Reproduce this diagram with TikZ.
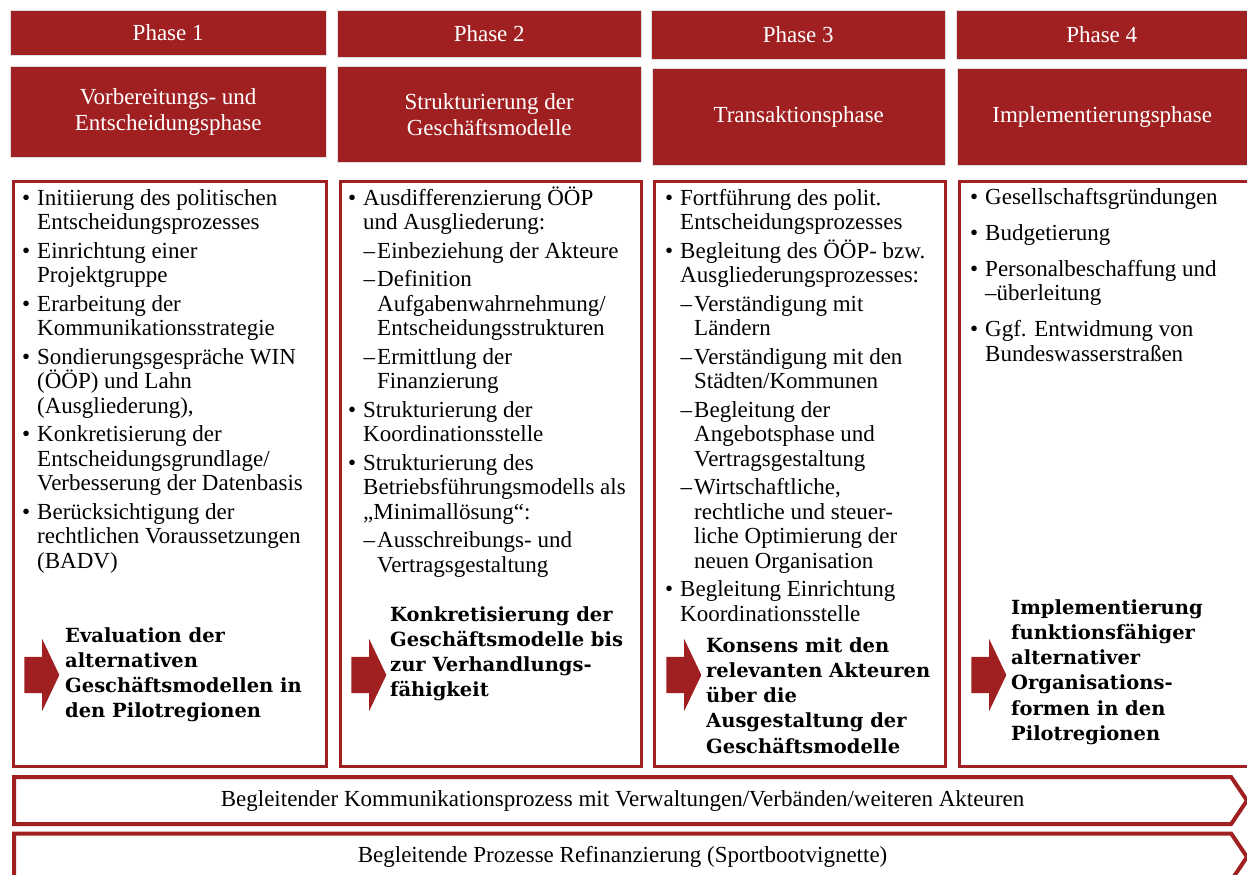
\documentclass[tikz,border=0pt]{standalone}
\usepackage{fontspec}
\setmainfont{Liberation Serif}
\newfontfamily\fettschrift{DejaVu Serif}
\usepackage{enumitem}
\usepackage{tikz}
\usetikzlibrary{shapes,arrows,positioning}
\definecolor{dunkelrot}{RGB}{160,32,34}
\setlist[itemize,1]{label=\textbullet, leftmargin=15pt, labelsep=7pt, itemsep=3.8pt, topsep=0pt, parsep=0pt, partopsep=0pt}
\setlist[itemize,2]{label=\textendash, leftmargin=14pt, labelsep=2pt, itemsep=3.8pt, topsep=3.8pt, parsep=0pt, partopsep=0pt}
\tikzstyle{phase} = [fill=dunkelrot, text=white, draw=gray!25, inner sep=0pt, anchor=north west, align=center, font=\fontsize{23}{26}\selectfont]
\tikzstyle{inhalt} = [draw=dunkelrot, line width=3pt, inner sep=0pt, anchor=north west]
\tikzstyle{liste} = [inner sep=0pt, anchor=base west, font=\fontsize{23}{24.6}\selectfont]
\tikzstyle{pfeil} = [single arrow, fill=dunkelrot, inner xsep=0pt, inner ysep=18pt, minimum height=35pt, single arrow head extend=18pt, single arrow tip angle=129]
\tikzstyle{ergebnis} = [inner sep=0pt, anchor=base west, font=\fettschrift\bfseries\fontsize{19.5}{25.3}\selectfont]
\tikzstyle{begleitung} = [signal, signal to=east, signal pointer angle=112, draw=dunkelrot, line width=4pt, inner sep=0pt, font=\fontsize{23}{26}\selectfont]

\begin{document}
\begin{tikzpicture}[x=1pt,y=-1pt]
\useasboundingbox (0,0) rectangle (1247,875);

% Kopfzeilen
\node[phase, minimum width=316pt, minimum height=45pt] (ph1) at (10,10) {Phase 1};
\node[phase, minimum width=304pt, minimum height=47pt] (ph2) at (337,10) {Phase 2};
\node[phase, minimum width=294pt, minimum height=49pt] (ph3) at (651,10) {Phase 3};
\node[phase, minimum width=291pt, minimum height=49pt] (ph4) at (956,10) {Phase 4};

\node[phase, minimum width=316pt, minimum height=91pt] (ti1) at (10,66) {Vorbereitungs- und\\Entscheidungsphase};
\node[phase, minimum width=304pt, minimum height=96pt] (ti2) at (337,66) {Strukturierung der\\Geschäftsmodelle};
\node[phase, minimum width=293pt, minimum height=97pt] (ti3) at (652,68) {Transaktionsphase};
\node[phase, minimum width=290pt, minimum height=97pt] (ti4) at (957,68) {Implementierungsphase};

% Rahmen der Spalten
\node[inhalt, minimum width=313pt, minimum height=585pt] (in1) at (11.5,179.5) {};
\node[inhalt, minimum width=301pt, minimum height=585pt] (in2) at (338.5,179.5) {};
\node[inhalt, minimum width=291pt, minimum height=585pt] (in3) at (652.5,179.5) {};
\node[inhalt, minimum width=300pt, minimum height=585pt] (in4) at (957.5,179.5) {};

% Aufzaehlungen
\node[liste] (li1) at (22,205) {%
  \begin{minipage}[t]{296pt}\raggedright
  \begin{itemize}
    \item Initiierung des politischen\\Entscheidungsprozesses
    \item Einrichtung einer\\Projektgruppe
    \item Erarbeitung der\\Kommunikationsstrategie
    \item Sondierungsgespräche WIN\\(ÖÖP) und Lahn\\(Ausgliederung),
    \item Konkretisierung der\\Entscheidungsgrundlage/\\Verbesserung der Datenbasis
    \item Berücksichtigung der\\rechtlichen Voraussetzungen\\(BADV)
  \end{itemize}
  \end{minipage}
};
\node[liste] (li2) at (348,205) {%
  \begin{minipage}[t]{287pt}\raggedright
  \begin{itemize}
    \item Ausdifferenzierung ÖÖP\\und Ausgliederung:
    \begin{itemize}
      \item Einbeziehung der Akteure
      \item Definition\\Aufgabenwahrnehmung/\\Entscheidungsstrukturen
      \item Ermittlung der\\Finanzierung
    \end{itemize}
    \item Strukturierung der\\Koordinationsstelle
    \item Strukturierung des\\Betriebsführungsmodells als\\„Minimallösung“:
    \begin{itemize}
      \item Ausschreibungs- und\\Vertragsgestaltung
    \end{itemize}
  \end{itemize}
  \end{minipage}
};
\node[liste] (li3) at (665,205) {%
  \begin{minipage}[t]{275pt}\raggedright
  \begin{itemize}
    \item Fortführung des polit.\\Entscheidungsprozesses
    \item Begleitung des ÖÖP- bzw.\\Ausgliederungsprozesses:
    \begin{itemize}
      \item Verständigung mit\\Ländern
      \item Verständigung mit den\\Städten/Kommunen
      \item Begleitung der\\Angebotsphase und\\Vertragsgestaltung
      \item Wirtschaftliche,\\rechtliche und steuer-\\liche Optimierung der\\neuen Organisation
    \end{itemize}
    \item Begleitung Einrichtung\\Koordinationsstelle
  \end{itemize}
  \end{minipage}
};
\node[liste] (li4) at (970,204) {%
  \begin{minipage}[t]{270pt}\raggedright
  \begin{itemize}[itemsep=11.5pt]
    \item Gesellschaftsgründungen
    \item Budgetierung
    \item Personalbeschaffung und\\\textendash überleitung
    \item Ggf. Entwidmung von\\Bundeswasserstraßen
  \end{itemize}
  \end{minipage}
};

% Ergebnisse je Phase
\node[pfeil] (pf1) at (37.5,675) {};
\node[pfeil] (pf2) at (364.5,675) {};
\node[pfeil] (pf3) at (679.5,675) {};
\node[pfeil] (pf4) at (984.5,675) {};

\node[ergebnis] (er1) at (65,642) {\begin{tabular}[t]{@{}l@{}}Evaluation der\\alternativen\\Geschäftsmodellen in\\den Pilotregionen\end{tabular}};
\node[ergebnis] (er2) at (390,621) {\begin{tabular}[t]{@{}l@{}}Konkretisierung der\\Geschäftsmodelle bis\\zur Verhandlungs-\\fähigkeit\end{tabular}};
\node[ergebnis] (er3) at (706,652) {\begin{tabular}[t]{@{}l@{}}Konsens mit den\\relevanten Akteuren\\über die\\Ausgestaltung der\\Geschäftsmodelle\end{tabular}};
\node[ergebnis] (er4) at (1011,614) {\begin{tabular}[t]{@{}l@{}}Implementierung\\funktionsfähiger\\alternativer\\Organisations-\\formen in den\\Pilotregionen\end{tabular}};

% begleitende Prozesse
\node[begleitung, minimum width=1233pt, minimum height=47pt, anchor=west] (bg1) at (12,800.5) {Begleitender Kommunikationsprozess mit Verwaltungen/Verbänden/weiteren Akteuren};
\node[begleitung, minimum width=1233pt, minimum height=47pt, anchor=west] (bg2) at (12,857) {Begleitende Prozesse Refinanzierung (Sportbootvignette)};
\end{tikzpicture}
\end{document}
